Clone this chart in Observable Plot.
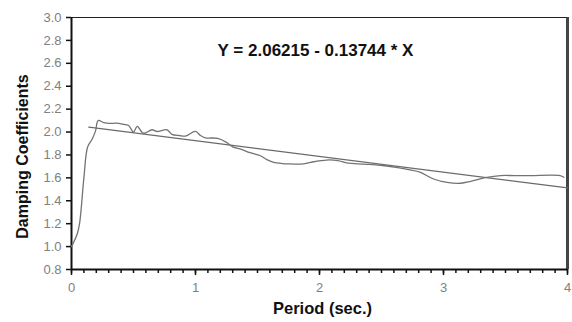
<!DOCTYPE html>
<html>
<head>
<meta charset="utf-8">
<script src="https://cdn.jsdelivr.net/npm/d3@7"></script>
<script src="https://cdn.jsdelivr.net/npm/@observablehq/plot@0.6"></script>
<style>
  html, body { margin: 0; padding: 0; background: #fff; }
  #chart { width: 572px; height: 322px; }
</style>
</head>
<body>
<div id="chart"></div>
<script>
const periods = [0, 0.046, 0.065, 0.1, 0.13, 0.167, 0.194, 0.215, 0.26, 0.31, 0.36, 0.41, 0.46, 0.50, 0.53, 0.58, 0.65, 0.69, 0.77, 0.81, 0.87, 0.92, 1.0, 1.04, 1.08, 1.18, 1.25, 1.30, 1.36, 1.44, 1.52, 1.58, 1.63, 1.70, 1.77, 1.85, 1.93, 2.01, 2.08, 2.15, 2.22, 2.36, 2.49, 2.63, 2.73, 2.81, 2.92, 3.03, 3.14, 3.22, 3.35, 3.46, 3.57, 3.70, 3.94, 3.97];
const damping = [1.0, 1.11, 1.2, 1.6, 1.87, 1.94, 2.01, 2.10, 2.083, 2.075, 2.077, 2.07, 2.057, 2.0, 2.05, 1.99, 2.02, 2.005, 2.02, 1.98, 1.97, 1.965, 2.005, 1.97, 1.95, 1.945, 1.91, 1.87, 1.853, 1.82, 1.795, 1.757, 1.735, 1.725, 1.722, 1.72, 1.736, 1.75, 1.757, 1.75, 1.73, 1.72, 1.71, 1.69, 1.67, 1.65, 1.59, 1.56, 1.553, 1.57, 1.605, 1.62, 1.62, 1.62, 1.62, 1.605];

const intercept = 2.06215;
const slope = -0.13744;
const fitRange = [0.14, 4];
const equation = "Y = 2.06215 - 0.13744 * X";
const xTitle = "Period (sec.)";
const yTitle = "Damping Coefficients";

const xDomain = [0, 4];
const yDomain = [0.8, 3.0];
const xMajorTicks = [0, 1, 2, 3, 4];
const xMinorTicks = d3.range(0, 41).map(i => i / 10);
const yTicks = [0.8, 1.0, 1.2, 1.4, 1.6, 1.8, 2.0, 2.2, 2.4, 2.6, 2.8, 3.0];

const series = periods.map((p, i) => ({p, d: damping[i]}));
const fit = fitRange.map(p => ({p, d: intercept + slope * p}));

const chart = Plot.plot({
  width: 572,
  height: 322,
  marginLeft: 71,
  marginRight: 5,
  marginTop: 17,
  marginBottom: 53,
  style: {fontFamily: "'Liberation Sans', Arial, sans-serif", fontSize: "12px", background: "#fff"},
  x: {domain: xDomain},
  y: {domain: yDomain},
  marks: [
    Plot.frame({stroke: "#222", strokeWidth: 1}),
    Plot.ruleX([xDomain[1]], {stroke: "#444", strokeWidth: 3}),
    Plot.axisX({ticks: xMinorTicks, tickFormat: () => "", tickSize: 4, stroke: "#111", strokeWidth: 1.5, label: null}),
    Plot.axisX({ticks: xMajorTicks, tickFormat: d3.format("d"), tickSize: 6, tickPadding: 7, stroke: "#111", strokeWidth: 1.5, fill: "#808080", fontSize: 13, label: null}),
    Plot.axisY({ticks: yTicks, tickFormat: d3.format(".1f"), tickSize: 5, tickPadding: 5, stroke: "#111", strokeWidth: 1.5, fill: "#808080", fontSize: 13, label: null}),
    Plot.ruleY([yDomain[0]], {stroke: "#111", strokeWidth: 2}),
    Plot.ruleX([xDomain[0]], {stroke: "#111", strokeWidth: 2}),
    Plot.line(fit, {x: "p", y: "d", stroke: "#6a6a6a", strokeWidth: 1.4}),
    Plot.line(series, {x: "p", y: "d", stroke: "#737373", strokeWidth: 1.3, curve: "catmull-rom"}),
    Plot.text([equation], {text: d => d, frameAnchor: "top", dx: -4, dy: 26, fontSize: 17, fontWeight: "bold", fill: "#111"}),
    Plot.text([xTitle], {text: d => d, frameAnchor: "bottom", dx: 3, dy: 44, fontSize: 16.5, fontWeight: "bold", fill: "#111"}),
    Plot.text([yTitle], {text: d => d, frameAnchor: "left", textAnchor: "middle", rotate: -90, dx: -49, dy: 13, fontSize: 16, fontWeight: "bold", fill: "#111"})
  ]
});

document.getElementById("chart").appendChild(chart);
</script>
</body>
</html>
